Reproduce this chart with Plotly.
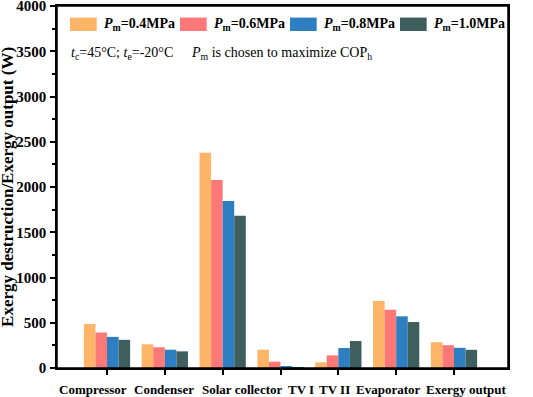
import plotly.graph_objects as go

categories = ["Compressor", "Condenser", "Solar collector", "TV I", "TV II", "Evaporator", "Exergy output"]
series_names = ["<i>P</i><sub>m</sub>=0.4MPa", "<i>P</i><sub>m</sub>=0.6MPa",
                "<i>P</i><sub>m</sub>=0.8MPa", "<i>P</i><sub>m</sub>=1.0MPa"]
pm_04 = [487, 262, 2379, 202, 63, 740, 285]
pm_06 = [392, 229, 2077, 70, 140, 644, 252]
pm_08 = [344, 202, 1845, 22, 221, 571, 223]
pm_10 = [311, 184, 1683, 2, 298, 508, 201]
colors = ["#FFB567", "#FF7878", "#2D7FC1", "#3F5F5F"]
y_ticks = [0, 500, 1000, 1500, 2000, 2500, 3000, 3500, 4000]
label_shift = [-14, -1, 19, 20, -4, -8, 12]

FONT = "Liberation Serif"
fig = go.Figure()
for name, vals, c in zip(series_names, [pm_04, pm_06, pm_08, pm_10], colors):
    fig.add_trace(go.Bar(x=categories, y=vals, name=name, marker=dict(color=c, line=dict(width=0)),
                         showlegend=False, hoverinfo="skip"))

# category labels (offset slightly, as in the original)
for cat, dx in zip(categories, label_shift):
    fig.add_annotation(x=cat, xref="x", y=0, yref="paper", yanchor="middle", yshift=-21,
                       xshift=dx, showarrow=False, text="<b>" + cat + "</b>",
                       font=dict(family=FONT, size=13, color="black"))

# y-axis title
fig.add_annotation(xref="paper", yref="paper", x=-0.111, y=0.5, xanchor="center", yanchor="middle",
                   textangle=-90, showarrow=False,
                   text="<b>Exergy destruction/Exergy output (W)</b>",
                   font=dict(family=FONT, size=17, color="black"))

# legend drawn inside the plot
leg_x = [0.0288, 0.2727, 0.5166, 0.7605]
for i, (name, c) in enumerate(zip(series_names, colors)):
    x0 = leg_x[i]
    fig.add_shape(type="rect", xref="paper", yref="paper", x0=x0, x1=x0 + 0.0592,
                  y0=0.931, y1=0.968, fillcolor=c, line=dict(width=0))
    fig.add_annotation(xref="paper", yref="paper", x=x0 + 0.072, y=0.949, xanchor="left",
                       yanchor="middle", showarrow=False, text="<b>" + name + "</b>",
                       font=dict(family=FONT, size=14, color="black"))
fig.add_annotation(xref="paper", yref="paper", x=0.026, y=0.870, xanchor="left", yanchor="middle",
                   showarrow=False, text="<i>t</i><sub>c</sub>=45°C; <i>t</i><sub>e</sub>=-20°C",
                   font=dict(family=FONT, size=14, color="black"))
fig.add_annotation(xref="paper", yref="paper", x=0.293, y=0.870, xanchor="left", yanchor="middle",
                   showarrow=False, text="<i>P</i><sub>m</sub> is chosen to maximize COP<sub>h</sub>",
                   font=dict(family=FONT, size=14, color="black"))

# plot frame
fig.add_shape(type="rect", xref="paper", yref="paper", x0=0, x1=1, y0=0, y1=1,
              line=dict(color="black", width=1.5), fillcolor="rgba(0,0,0,0)", layer="above")

fig.update_layout(
    width=533, height=397,
    margin=dict(l=57, r=25, t=6, b=29),
    paper_bgcolor="white", plot_bgcolor="white",
    barmode="group", bargap=0.2, bargroupgap=0,
    font=dict(family=FONT, size=14, color="black"),
    xaxis=dict(showline=True, linecolor="black", linewidth=1.5, mirror=True,
               ticks="outside", ticklen=5, tickwidth=1.5, tickcolor="black",
               showticklabels=False, automargin=False, showgrid=False),
    yaxis=dict(range=[0, 4000], tickvals=y_ticks, showline=True, linecolor="black", linewidth=1.5,
               mirror=True, ticks="outside", ticklen=5, tickwidth=1.5, tickcolor="black",
               automargin=False, ticklabelstandoff=1, ticklabeloverflow="allow",
               tickfont=dict(family=FONT, size=15, color="black", weight="bold"),
               minor=dict(tickvals=[v + 250 for v in y_ticks[:-1]], ticks="outside", ticklen=3,
                          tickwidth=1.5, tickcolor="black"),
               showgrid=False, zeroline=False),
)
fig.write_html("out.html", config={"displayModeBar": False},
               post_script="document.body.style.margin='0';document.body.style.overflow='hidden';")
